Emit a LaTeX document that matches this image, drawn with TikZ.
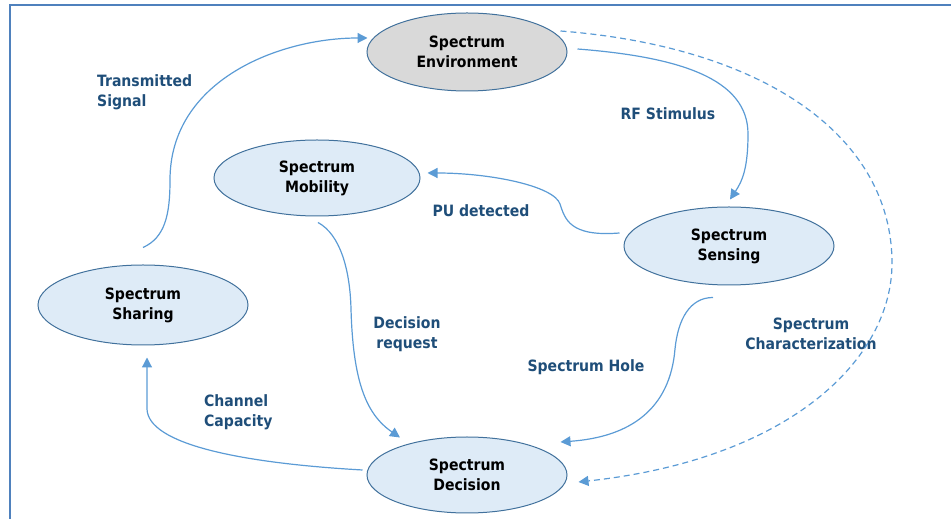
\documentclass[tikz,border=0pt]{standalone}
\usepackage{fontspec}
\newfontfamily\dvc{DejaVu Sans Condensed}
\usetikzlibrary{shapes.geometric,arrows.meta}
\definecolor{framec}{HTML}{4F81BD}
\definecolor{linec}{HTML}{5B9BD5}
\definecolor{edgec}{HTML}{41719C}
\definecolor{fillc}{HTML}{DEEBF7}
\definecolor{envfill}{HTML}{D9D9D9}
\definecolor{labc}{HTML}{1F4E79}
\begin{document}
\begin{tikzpicture}[x=1pt,y=1pt,
  stage/.style={ellipse, draw=edgec, line width=1pt, fill=fillc, inner sep=0pt,
    align=center, font=\dvc\bfseries\fontsize{15.6}{20}\selectfont, text=black},
  lab/.style={inner sep=0pt, text=labc, font=\dvc\bfseries\fontsize{15.6}{20}\selectfont},
  conn/.style={draw=linec, line width=1.2pt, -{Triangle[length=10pt,width=10pt]}},
  dconn/.style={conn, dash pattern=on 6pt off 4pt}]
\useasboundingbox (0,0) rectangle (951,519);
\draw[framec, line width=2pt] (10,0) -- (10,514) -- (951,514);

\node[stage, fill=envfill, minimum width=200pt, minimum height=78pt] (env) at (467,467) {Spectrum\\Environment};
\node[stage, minimum width=206pt, minimum height=76pt] (mob) at (317,341) {Spectrum\\Mobility};
\node[stage, minimum width=210pt, minimum height=78pt] (sens) at (729,273) {Spectrum\\Sensing};
\node[stage, minimum width=210pt, minimum height=80pt] (shar) at (143,214) {Spectrum\\Sharing};
\node[stage, minimum width=200pt, minimum height=76pt] (dec) at (467,44) {Spectrum\\Decision};

\node[lab, anchor=west, align=left] (ltx) at (97,427) {Transmitted\\Signal};
\node[lab] (lrf) at (668,405) {RF Stimulus};
\node[lab] (lpu) at (481,308) {PU detected};
\node[lab, align=center] (ldr) at (407,185) {Decision\\request};
\node[lab] (lsh) at (586,152) {Spectrum Hole};
\node[lab, align=center] (lsc) at (811,185) {Spectrum\\Characterization};
\node[lab, anchor=west, align=left] (lcc) at (204,107) {Channel\\Capacity};

% Sharing -> Environment
\draw[conn] ([yshift=17pt]shar.north) .. controls +(22,10) and +(0,-35) .. (170,339)
  .. controls +(0,100) and +(-88,0) .. ([shift={(1,14)}]env.west);
% Environment -> Sensing
\draw[conn] ([shift={(10,3)}]env.east) .. controls +(103,-8) and +(0,55) .. (748,385)
  .. controls +(0,-35) and +(12,18) .. ([shift={(1,7)}]sens.north);
% Environment -> Decision (dashed)
\draw[dconn] ([shift={(-7,21)}]env.east) .. controls +(205,-16) and +(0,126) .. (892,256)
  .. controls +(0,-96) and +(212,23) .. ([shift={(11,-7)}]dec.east);
% Sensing -> Mobility
\draw[conn] ([shift={(-4,13)}]sens.west) .. controls +(-50,-4) and +(5,-15) .. (560,315)
  .. controls +(-6,18) and +(63,0) .. ([shift={(7,5)}]mob.east);
% Mobility -> Decision
\draw[conn] ([shift={(1,-6)}]mob.south) .. controls +(22,-12) and +(-1,40) .. (351,210)
  .. controls +(2,-70) and +(-35,24) .. ([shift={(-67,-1)}]dec.north);
% Sensing -> Decision
\draw[conn] ([shift={(-16,-12)}]sens.south) .. controls +(-23,0) and +(3,30) .. (675,170)
  .. controls +(-5,-60) and +(70,5) .. ([shift={(-7,33)}]dec.east);
% Decision -> Sharing
\draw[conn] ([shift={(-4,5)}]dec.west) .. controls +(-123,7) and +(1,-35) .. (147,110)
  -- ([shift={(4,-12)}]shar.south);
\end{tikzpicture}
\end{document}
